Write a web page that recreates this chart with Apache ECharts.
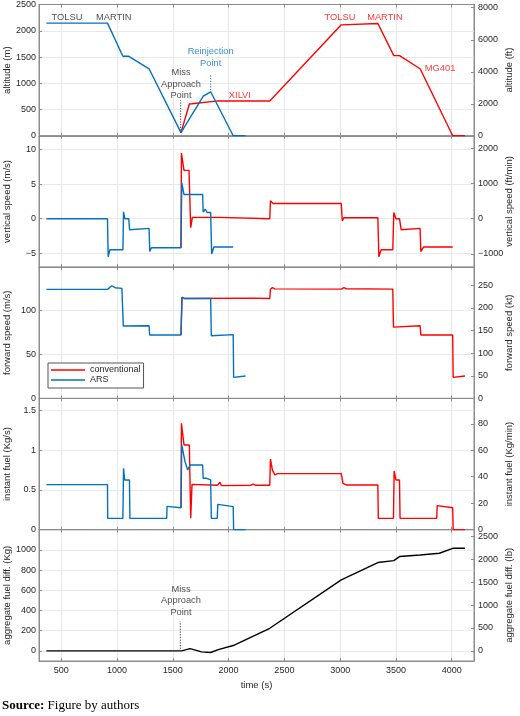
<!DOCTYPE html>
<html><head><meta charset="utf-8">
<script src="https://cdn.jsdelivr.net/npm/echarts@6/dist/echarts.min.js"></script>
<style>html,body{margin:0;padding:0;background:#fff}#c{width:520px;height:716px}</style>
</head><body><div id="c"></div>
<script>
// ---------------- DATA ----------------
const timeTicks = [500, 1000, 1500, 2000, 2500, 3000, 3500, 4000];

// altitude (m)
const altitudeARS = [[366,2145],[914,2145],[1052,1514],[1105,1514],[1287,1276],[1573,60],[1773,754],[1839,838],[2041,0],[2152,0]];
const altitudeConv = [[1573,60],[1648,606],[1669,610],[1907,664],[2369,664],[3010,2113],[3338,2139],[3481,1527],[3532,1527],[3717,1276],[4009,0],[4119,0]];
const altitudeTicks = [0,500,1000,1500,2000,2500];
const altitudeFtTicks = [0,2000,4000,6000,8000];

// vertical speed (m/s)
const vspeedARS = [[366,0],[914,0],[920,-5.5],[935,-4.5],[1052,-4.5],[1058,1.0],[1070,0],[1105,0],[1112,-1.6],[1125,-1.4],[1287,-1.4],[1293,-4.75],[1308,-4.2],[1573,-4.2],[1580,5.2],[1600,3.5],[1767,3.5],[1772,0.95],[1790,1.4],[1808,0.9],[1839,0.9],[1848,-5.1],[1868,-4.1],[2041,-4.1]];
const vspeedConv = [[1573,-4.2],[1577,9.5],[1600,7.0],[1645,7.0],[1660,-1.3],[1675,0.2],[1922,0.2],[1928,0],[2369,0],[2375,2.6],[2399,2.2],[3010,2.2],[3019,-0.3],[3034,0.15],[3338,0.15],[3347,-5.5],[3368,-4.5],[3472,-4.5],[3481,0.9],[3500,0],[3532,0],[3547,-1.6],[3560,-1.4],[3717,-1.4],[3723,-4.75],[3747,-4.1],[4009,-4.1]];
const vspeedTicks = [-5,0,5,10];
const vspeedFtTicks = [-1000,0,1000,2000];

// forward speed (m/s)
const fspeedARS = [[366,123.9],[914,123.9],[953,128],[983,125.8],[1043,125],[1052,124.5],[1056,82.2],[1287,82.6],[1292,72],[1573,72],[1582,115.2],[1603,113.6],[1839,113.6],[1845,71.2],[2041,72.5],[2045,23.9],[2152,25.4]];
const fspeedConv = [[1573,72],[1582,114.4],[1603,113.6],[2220,114.0],[2369,113.6],[2375,124],[2393,126],[2414,124.5],[3010,124.2],[3034,125.8],[3055,124.6],[3472,124.2],[3478,81],[3717,82.6],[3723,72],[4009,72],[4013,23.9],[4119,25.4]];
const fspeedTicks = [0,50,100];
const fspeedKtTicks = [0,50,100,150,200,250];

// instant fuel (kg/s)
const fuelARS = [[366,0.567],[914,0.567],[916,0.143],[1052,0.143],[1058,0.773],[1068,0.626],[1111,0.626],[1115,0.143],[1445,0.143],[1448,0.294],[1573,0.277],[1580,1.067],[1609,0.857],[1633,0.752],[1654,0.815],[1767,0.815],[1772,0.647],[1803,0.647],[1810,0.626],[1839,0.626],[1845,0.143],[1898,0.143],[1903,0.319],[2041,0.29],[2045,0],[2152,0]];
const fuelConv = [[1573,0.277],[1577,1.34],[1600,1.067],[1648,1.067],[1660,0.143],[1672,0.571],[1900,0.56],[1922,0.597],[1935,0.555],[2200,0.56],[2220,0.575],[2240,0.56],[2369,0.56],[2375,0.89],[2393,0.75],[2414,0.69],[2440,0.706],[3010,0.706],[3025,0.584],[3055,0.563],[3338,0.563],[3342,0.143],[3478,0.143],[3484,0.74],[3500,0.626],[3532,0.626],[3537,0.143],[3866,0.143],[3870,0.303],[4009,0.277],[4013,0],[4119,0]];
const fuelTicks = [0,0.5,1,1.5];
const fuelMinTicks = [0,20,40,60,80];

// aggregate fuel difference (kg)
const aggregateDiff = [[366,0],[1579,0],[1654,23],[1758,-10],[1839,-16],[1907,13],[2041,53],[2369,224],[3010,703],[3338,875],[3481,894],[3532,934],[3717,950],[3890,967],[4009,1016],[4119,1016]];
const aggregateTicks = [0,200,400,600,800,1000];
const aggregateLbTicks = [0,500,1000,1500,2000,2500];

// annotations (data coordinates)
const altitudeLabels = [
  {t:551, v:2255, text:'TOLSU', who:'black'},
  {t:971, v:2255, text:'MARTIN', who:'black'},
  {t:2998, v:2255, text:'TOLSU', who:'conv'},
  {t:3401, v:2255, text:'MARTIN', who:'conv'},
  {t:3896, v:1276, text:'MG401', who:'conv'},
  {t:2101, v:773, text:'XILVI', who:'conv'},
  {t:1839, v:1492, text:'Reinjection\nPoint', who:'ars'},
  {t:1573, v:986, text:'Miss\nApproach\nPoint', who:'black'}
];
const aggregateLabels = [
  {t:1573, v:495, text:'Miss\nApproach\nPoint', who:'black'}
];
const missApproachAlt = [[1570,97],[1570,676]];
const reinjectionAlt = [[1839,870],[1839,1179]];
const missApproachAgg = [[1567,20],[1567,290]];

// ---------------- CHART ----------------
const FONT = 'Liberation Sans, Arial, Helvetica, sans-serif';
const RED = '#ff0000', BLUE = '#0072bd', AX = '#8c8c8c', TXT = '#262626', GRIDC = '#e8e8e8';
const colorOf = {black:'#1a1a1a', conv:RED, ars:BLUE};
const minus = v => String(v).replace('-', '\u2212');

const panels = [
  {lname:'altitude (m)', rname:'altitude (ft)', min:0, max:2500, ticks:altitudeTicks, k:1/0.3048, rticks:altitudeFtTicks},
  {lname:'vertical speed (m/s)', rname:'vertical speed (ft/min)', min:-7, max:12, ticks:vspeedTicks, k:196.850394, rticks:vspeedFtTicks},
  {lname:'forward speed (m/s)', rname:'forward speed (kt)', min:0, max:149.2, ticks:fspeedTicks, k:1.943844, rticks:fspeedKtTicks},
  {lname:'instant fuel (Kg/s)', rname:'instant fuel (Kg/min)', min:0, max:1.653, ticks:fuelTicks, k:60, rticks:fuelMinTicks},
  {lname:'aggregate fuel diff. (Kg)', rname:'aggregate fuel diff. (lb)', min:-100, max:1200, ticks:aggregateTicks, k:2.20462, rticks:aggregateLbTicks}
];

const TOP0 = 4.5, H = 131.3, LEFT = 39, RIGHT = 46;
const grids = [], xAxes = [], yAxes = [], series = [];
panels.forEach((p, i) => {
  grids.push({left:LEFT, right:RIGHT, top:TOP0 + i*H, height:H, containLabel:false, outerBoundsMode:'none',
    show:true, borderColor:AX, borderWidth:1, backgroundColor:'transparent'});
  const last = i === panels.length - 1;
  xAxes.push({
    gridIndex:i, type:'value', min:300, max:4200, position:'bottom',
    name: last ? 'time (s)' : '', nameLocation:'middle', nameGap:19, nameMoveOverlap:false,
    nameTextStyle:{fontFamily:FONT, fontSize:9.5, color:TXT},
    axisLine:{show:true, onZero:false, lineStyle:{color:AX}},
    axisTick:{show:true, inside:true, length:3, customValues:timeTicks, lineStyle:{color:AX}},
    axisLabel:{show:last, customValues:timeTicks, fontFamily:FONT, fontSize:9, color:TXT, margin:5, formatter:v => String(v)},
    splitLine:{show:true, lineStyle:{color:GRIDC, width:1}}
  });
  yAxes.push({
    gridIndex:i, type:'value', position:'left', min:p.min, max:p.max,
    name:p.lname, nameLocation:'middle', nameGap:27, nameRotate:90, nameMoveOverlap:false,
    nameTextStyle:{fontFamily:FONT, fontSize:9.5, color:TXT},
    axisLine:{show:true, onZero:false, lineStyle:{color:AX}},
    axisTick:{show:true, inside:true, length:3, customValues:p.ticks, lineStyle:{color:AX}},
    axisLabel:{customValues:p.ticks, fontFamily:FONT, fontSize:9, color:TXT, margin:3, formatter:minus},
    splitLine:{show:true, lineStyle:{color:GRIDC, width:1}}
  });
  yAxes.push({
    gridIndex:i, type:'value', position:'right', min:p.min*p.k, max:p.max*p.k,
    name:p.rname, nameLocation:'middle', nameGap:30, nameRotate:90, nameMoveOverlap:false,
    nameTextStyle:{fontFamily:FONT, fontSize:9.5, color:TXT},
    axisLine:{show:true, onZero:false, lineStyle:{color:AX}},
    axisTick:{show:true, inside:true, length:3, customValues:p.rticks, lineStyle:{color:AX}},
    axisLabel:{customValues:p.rticks, fontFamily:FONT, fontSize:9, color:TXT, margin:4, formatter:minus},
    splitLine:{show:false}
  });
});
// top x axes (box ticks)
panels.forEach((p, i) => {
  xAxes.push({
    gridIndex:i, type:'value', min:300, max:4200, position:'top',
    axisLine:{show:true, onZero:false, lineStyle:{color:AX}},
    axisTick:{show:true, inside:true, length:3, customValues:timeTicks, lineStyle:{color:AX}},
    axisLabel:{show:false}, splitLine:{show:false}
  });
});

function lineSeries(name, data, i, color) {
  return {name, type:'line', xAxisIndex:i, yAxisIndex:2*i, data, symbol:'none', showSymbol:false,
    lineStyle:{color, width:1.4}, itemStyle:{color}, animation:false, z:3};
}
const pairs = [[altitudeConv, altitudeARS],[vspeedConv, vspeedARS],[fspeedConv, fspeedARS],[fuelConv, fuelARS]];
pairs.forEach((pr, i) => {
  series.push(lineSeries('conventional', pr[0], i, RED));
  series.push(lineSeries('ARS', pr[1], i, BLUE));
});
series.push(lineSeries('aggregate', aggregateDiff, 4, '#000000'));

function dotted(data, i, color) {
  return {type:'line', xAxisIndex:i, yAxisIndex:2*i, data, symbol:'none', silent:true,
    lineStyle:{color, width:1, type:[1.2,1.5]}, z:2, animation:false};
}
series.push(dotted(missApproachAlt, 0, '#333'));
series.push(dotted(reinjectionAlt, 0, BLUE));
series.push(dotted(missApproachAgg, 4, '#333'));

function labelSeries(list, i) {
  return {type:'scatter', xAxisIndex:i, yAxisIndex:2*i, symbolSize:0, silent:true, z:5, animation:false,
    data: list.map(a => ({value:[a.t, a.v], label:{show:true, position:'inside', formatter:a.text,
      color:colorOf[a.who], fontFamily:FONT, fontSize:9.3, lineHeight:11.5, align:'center', verticalAlign:'middle'}}))};
}
series.push(labelSeries(altitudeLabels, 0));
series.push(labelSeries(aggregateLabels, 4));

const LINE_ICON = 'path://M0 0 H100 V4.5 H0 Z';
const option = {
  animation:false,
  backgroundColor:'#ffffff',
  grid:grids, xAxis:xAxes, yAxis:yAxes, series,
  legend:{
    data:[{name:'conventional', icon:LINE_ICON},{name:'ARS', icon:LINE_ICON}],
    orient:'vertical', left:48, top:363,
    backgroundColor:'#ffffff', borderColor:'#555', borderWidth:1, borderRadius:0,
    padding:[2,3,3,3], itemGap:0, itemWidth:34, itemHeight:10,
    textStyle:{fontFamily:FONT, fontSize:9, color:TXT, lineHeight:10},
    selectedMode:false
  },
  graphic:[{
    type:'text', left:2, top:699,
    style:{text:'{b|Source:} Figure by authors', fontFamily:'Liberation Serif, Times New Roman, serif', fontSize:13, fill:'#000',
      rich:{b:{fontWeight:'bold', fontFamily:'Liberation Serif, Times New Roman, serif', fontSize:13}}}
  }]
};
const chart = echarts.init(document.getElementById('c'), null, {renderer:'canvas'});
chart.setOption(option);
</script></body></html>
